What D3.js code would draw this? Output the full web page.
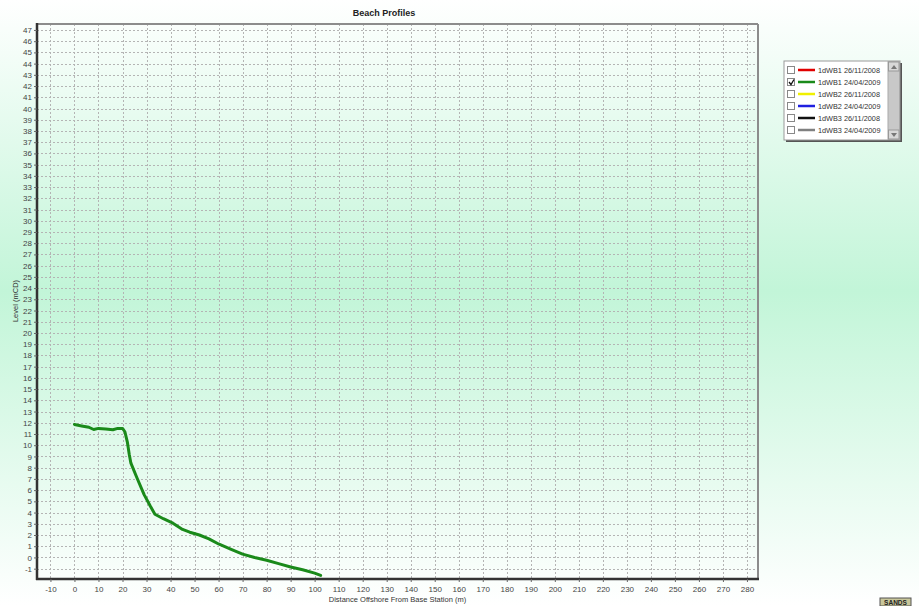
<!DOCTYPE html>
<html>
<head>
<meta charset="utf-8">
<script src="https://cdn.jsdelivr.net/npm/d3@7"></script>
<style>
  html, body { margin: 0; padding: 0; background: #fff; }
  svg { display: block; font-family: "Liberation Sans", Arial, sans-serif; }
</style>
</head>
<body>
<svg id="chart" width="919" height="606"></svg>
<script>
// Profile survey: distance offshore (m) and level (mCD)
const distance = [0, 3, 6, 8, 10, 13, 16, 18, 20, 21, 22, 22.8, 23.5, 26, 29, 31.5, 33.5, 37, 41, 45, 48, 52, 56, 60, 65, 70, 75, 80, 85, 90, 95, 100, 102.5];
const level    = [11.85, 11.72, 11.6, 11.4, 11.5, 11.45, 11.38, 11.5, 11.5, 11.2, 10.3, 9.2, 8.4, 7.1, 5.6, 4.6, 3.85, 3.45, 3.05, 2.5, 2.25, 2.0, 1.65, 1.2, 0.75, 0.3, 0.0, -0.25, -0.55, -0.85, -1.1, -1.4, -1.6];

// Legend entries
const seriesNames   = ["1dWB1 26/11/2008", "1dWB1 24/04/2009", "1dWB2 26/11/2008", "1dWB2 24/04/2009", "1dWB3 26/11/2008", "1dWB3 24/04/2009"];
const seriesColors  = ["#e00000", "#1a8a1a", "#f0f000", "#2020e0", "#111111", "#808080"];
const seriesChecked = [false, true, false, false, false, false];

// Axis tick values
const xTicks = d3.range(-10, 281, 10);
const yTicks = d3.range(-1, 48, 1);

const svg = d3.select("#chart");
const W = 919, H = 606;

// Page background: soft mint band
const defs = svg.append("defs");
const bg = defs.append("linearGradient").attr("id", "bgGrad")
  .attr("x1", 0).attr("y1", 0).attr("x2", 0).attr("y2", 1);
bg.append("stop").attr("offset", "0%").attr("stop-color", "#ffffff");
bg.append("stop").attr("offset", "48%").attr("stop-color", "#c2f5d8");
bg.append("stop").attr("offset", "100%").attr("stop-color", "#ffffff");
svg.append("rect").attr("width", W).attr("height", H).attr("fill", "url(#bgGrad)");

const plot = { left: 37, right: 758, top: 24, bottom: 579 };
const x = d3.scaleLinear().domain([-15.6, 284.6]).range([plot.left, plot.right]);
const y = d3.scaleLinear().domain([-1.92, 47.53]).range([plot.bottom, plot.top]);

// Grid
const grid = svg.append("g").attr("stroke", "#b4b4b4").attr("stroke-width", 1)
  .attr("stroke-dasharray", "2,2").attr("shape-rendering", "crispEdges");
grid.selectAll("line.v").data(xTicks).join("line").attr("class", "v")
  .attr("x1", d => Math.round(x(d)) + 0.5).attr("x2", d => Math.round(x(d)) + 0.5)
  .attr("y1", plot.top).attr("y2", plot.bottom);
grid.selectAll("line.h").data(yTicks).join("line").attr("class", "h")
  .attr("y1", d => Math.round(y(d)) + 0.5).attr("y2", d => Math.round(y(d)) + 0.5)
  .attr("x1", plot.left).attr("x2", plot.right);

// Frame: light top/right, dark left/bottom
svg.append("line").attr("x1", plot.left).attr("x2", plot.right).attr("y1", plot.top).attr("y2", plot.top)
  .attr("stroke", "#8c8c8c").attr("stroke-width", 2);
svg.append("line").attr("x1", plot.right).attr("x2", plot.right).attr("y1", plot.top).attr("y2", plot.bottom)
  .attr("stroke", "#8c8c8c").attr("stroke-width", 2);

// Axes (plain hyphen for negative labels)
const fmt = d => String(d);
const xAxis = d3.axisBottom(x).tickValues(xTicks).tickSize(3).tickPadding(4).tickFormat(fmt);
const yAxis = d3.axisLeft(y).tickValues(yTicks).tickSize(3).tickPadding(2).tickFormat(fmt);

const gx = svg.append("g").attr("transform", `translate(0,${plot.bottom})`).call(xAxis);
const gy = svg.append("g").attr("transform", `translate(${plot.left},0)`).call(yAxis);
[gx, gy].forEach(g => {
  g.select(".domain").attr("stroke", "#333").attr("stroke-width", 2.5);
  g.selectAll(".tick line").attr("stroke", "#666");
  g.selectAll(".tick text").attr("fill", "#444").attr("font-size", 8);
});
gx.select(".domain").attr("d", `M${plot.left - 1},0H${plot.right + 1}`);
gy.select(".domain").attr("d", `M0,${plot.top - 1}V${plot.bottom + 1}`);

// Profile line
const pts = distance.map((d, i) => [d, level[i]]);
svg.append("path").datum(pts)
  .attr("fill", "none").attr("stroke", seriesColors[1]).attr("stroke-width", 3)
  .attr("stroke-linejoin", "round").attr("stroke-linecap", "round")
  .attr("d", d3.line().x(d => x(d[0])).y(d => y(d[1])));

// Titles
svg.append("text").attr("x", 384).attr("y", 16).attr("text-anchor", "middle")
  .attr("font-size", 9).attr("font-weight", "bold").attr("fill", "#222").text("Beach Profiles");
svg.append("text").attr("x", (plot.left + plot.right) / 2).attr("y", 602).attr("text-anchor", "middle")
  .attr("font-size", 7.5).attr("fill", "#333").text("Distance Offshore From Base Station (m)");
svg.append("text").attr("transform", "translate(18,301) rotate(-90)").attr("text-anchor", "middle")
  .attr("font-size", 7.5).attr("fill", "#333").text("Level (mCD)");

// Legend box with scrollbar
const lg = svg.append("g").attr("transform", "translate(784,61)");
const lw = 116, lh = 79;
lg.append("rect").attr("x", 2).attr("y", 2).attr("width", lw).attr("height", lh).attr("fill", "#555");
lg.append("rect").attr("width", lw).attr("height", lh).attr("fill", "#fff").attr("stroke", "#999");
lg.append("rect").attr("x", lw - 12).attr("y", 0.5).attr("width", 11.5).attr("height", lh - 1).attr("fill", "#c8c8c8").attr("stroke", "#aaa");
lg.append("rect").attr("x", lw - 11.5).attr("y", 1).attr("width", 10.5).attr("height", 9).attr("fill", "#d8d8d8").attr("stroke", "#999");
lg.append("rect").attr("x", lw - 11.5).attr("y", lh - 10).attr("width", 10.5).attr("height", 9).attr("fill", "#d8d8d8").attr("stroke", "#999");
lg.append("path").attr("d", `M${lw - 9},8L${lw - 6},4L${lw - 3},8Z`).attr("fill", "#777");
lg.append("path").attr("d", `M${lw - 9},${lh - 7}L${lw - 6},${lh - 3}L${lw - 3},${lh - 7}Z`).attr("fill", "#777");

const rows = lg.selectAll("g.row").data(seriesNames).join("g").attr("class", "row")
  .attr("transform", (d, i) => `translate(0,${9 + i * 12})`);
rows.append("rect").attr("x", 3.5).attr("y", -3.5).attr("width", 7).attr("height", 7)
  .attr("fill", "#fff").attr("stroke", "#888");
rows.filter((d, i) => seriesChecked[i]).append("path")
  .attr("d", "M5,0L7,2.5L10,-2.5").attr("fill", "none").attr("stroke", "#111").attr("stroke-width", 1.3);
rows.append("line").attr("x1", 14).attr("x2", 31).attr("y1", 0).attr("y2", 0)
  .attr("stroke", (d, i) => seriesColors[i]).attr("stroke-width", 2.5);
rows.append("text").attr("x", 34).attr("y", 2.7).attr("font-size", 7.3).attr("fill", "#333").text(d => d);

// Badge
const badge = svg.append("g").attr("transform", "translate(880,598)");
badge.append("rect").attr("width", 31).attr("height", 8).attr("fill", "#c9c79a").attr("stroke", "#555");
badge.append("text").attr("x", 15.5).attr("y", 7).attr("text-anchor", "middle")
  .attr("font-size", 6.5).attr("font-weight", "bold").attr("fill", "#222").text("SANDS");
</script>
</body>
</html>
